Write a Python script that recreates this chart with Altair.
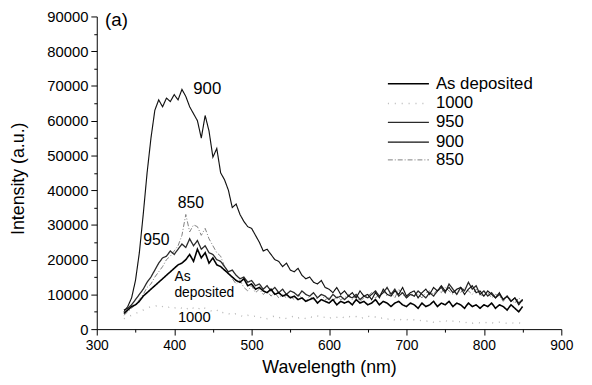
import altair as alt
import pandas as pd

wavelength = list(range(335, 855, 5))

s_900 = [5000, 6500, 9000, 14000, 22000, 33000, 45000, 55000, 63000, 66000,
         64000, 66500, 65500, 67500, 66000, 69000, 67000, 64000, 62000, 60000,
         55000, 61500, 57000, 49500, 52000, 45000, 43000, 40000, 35000, 36000,
         33000, 31000, 29500, 29000, 27000, 25000, 22500, 23000, 21500, 20000,
         19500, 18000, 19000, 17000, 16500, 17500, 15500, 14500, 15000, 13500,
         13000, 14000, 12000, 11500, 10500, 12000, 10000, 11000, 9500, 10500,
         9000, 11000, 9500, 10000, 8500, 10500, 9000, 11500, 10000, 9500,
         11000, 10000, 12000, 9500, 10500, 11000, 9000, 10500, 11500, 10000,
         12000, 11000, 12500, 11000, 12000, 10500, 11500, 12000, 10000, 11500,
         12500, 10500, 11000, 9500, 11000, 10000, 9000, 10500, 8500, 9500,
         8000, 9000, 7000, 8500]

s_850 = [4000, 5000, 6000, 7000, 8500, 10000, 12000, 13000, 15000, 16500,
         18000, 20000, 21000, 22500, 24000, 27000, 33000, 28000, 30000, 29500,
         27000, 29000, 26000, 24000, 22000, 21000, 18000, 16000, 14500, 13000,
         14000, 12000, 11000, 12500, 10500, 11500, 10000, 11000, 9500, 10500,
         9000, 10000, 9000, 9500, 8500, 10000, 9000, 8000, 9500, 8500,
         9000, 10000, 8500, 9000, 8000, 9500, 8500, 9000, 10000, 8500,
         9500, 8000, 9000, 9500, 10500, 9000, 10000, 11000, 9500, 10500,
         9000, 11500, 10000, 9000, 10500, 9500, 10000, 9000, 10500, 11000,
         10000, 11500, 10500, 12000, 11000, 10000, 11500, 10500, 12000, 11000,
         10000, 11500, 10000, 9500, 10500, 9000, 10000, 9500, 8000, 9500,
         8500, 7500, 9000, 8000]

s_950 = [5500, 6000, 7000, 8500, 10000, 11500, 13500, 15000, 17000, 19000,
         20500, 21000, 22500, 21500, 23000, 24500, 23500, 26000, 24000, 25500,
         23000, 24000, 22000, 21500, 20000, 19500, 18000, 16500, 17000, 15500,
         14500, 15000, 13500, 14000, 12500, 13000, 11500, 12500, 11000, 12000,
         10500, 11500, 10000, 11000, 10500, 9500, 11000, 10000, 9500, 10500,
         9000, 10000, 9500, 8500, 10000, 9000, 9500, 8500, 9500, 9000,
         10000, 8500, 9500, 9000, 10000, 11000, 9500, 10500, 12000, 10000,
         11500, 9500, 10500, 9000, 10000, 9500, 11000, 10000, 9000, 10500,
         9500, 11000, 12000, 10500, 13000, 11500, 10000, 12000, 11000, 13500,
         11500, 12500, 10000, 11000, 9500, 10500, 9000, 10000, 8500, 9500,
         8000, 9000, 7500, 8500]

s_asdep = [4500, 5500, 6500, 7000, 8000, 9500, 10500, 11500, 12500, 13500,
           14500, 15500, 16500, 17500, 18500, 19000, 20000, 21500, 19500, 23000,
           20500, 22000, 19000, 20500, 18500, 18000, 17000, 16000, 15000, 14000,
           13500, 14500, 12500, 13000, 11500, 12000, 11000, 10500, 11500, 10000,
           10500, 9500, 10000, 9000, 9500, 8500, 9000, 8000, 8500, 9000,
           7500, 8500, 8000, 7500, 8500, 7000, 8000, 7500, 8000, 7000,
           8500, 7500, 8000, 7000, 7500, 8500, 7000, 8000, 7500, 6500,
           7500, 8000, 7000, 6500, 7500, 7000, 6000, 7500, 6500, 7000,
           8000, 6500, 7500, 7000, 8000, 6500, 7500, 7000, 6000, 7500,
           6500, 7000, 6000, 7000, 6500, 7500, 6000, 7000, 6500, 5500,
           7000, 6000, 5000, 6500]

s_1000 = [3000, 3500, 4000, 4500, 5000, 5500, 6000, 6500, 6500, 7000,
          6500, 6000, 6500, 6000, 6500, 6000, 5500, 6500, 6000, 5500,
          6500, 6000, 5500, 5000, 5500, 4500, 5000, 4500, 4000, 4500,
          4000, 3500, 4000, 3500, 3800, 3200, 3600, 3000, 3500, 3800,
          3200, 3600, 3000, 3400, 3800, 3200, 3500, 3000, 3600, 3300,
          3800, 3200, 3500, 3000, 3600, 3400, 3800, 3200, 3700, 3300,
          3600, 3000, 3400, 3800, 3200, 3500, 3000, 3300, 2800, 3200,
          2600, 3000, 2500, 2800, 2400, 2700, 2300, 2600, 2200, 2500,
          2000, 2400, 2100, 2500, 2000, 2300, 1900, 2200, 1800, 2100,
          1700, 2000, 1800, 2100, 1700, 1900, 1600, 2000, 1800, 1700,
          1900, 1600, 1800, 1700]

series_names = ["As deposited", "1000", "950", "900", "850"]
series_colors = ["#000000", "#b8b8b8", "#2a2a2a", "#111111", "#808080"]
series_dash = [[1, 0], [1, 6], [1, 0], [1, 0], [5, 2, 1, 2]]
series_width = [1.6, 1.0, 1.2, 1.2, 1.0]
draw_order = ["1000", "850", "950", "As deposited", "900"]

legend_y = [70655, 64957, 59544, 53846, 48718]
legend_x1 = 676
legend_x2 = 729
legend_label_x = 738

ann_text = ["(a)", "900", "850", "950", "As", "deposited", "1000"]
ann_x = [325.5, 442.7, 421.7, 377, 410.8, 438.9, 426]
ann_y = [88900, 69200, 36200, 25600, 15100, 10300, 3400]
ann_size = [19, 17, 16, 16, 14, 14, 15]

values_by_series = {
    "As deposited": s_asdep, "1000": s_1000, "950": s_950, "900": s_900, "850": s_850,
}
rows = []
for name in draw_order:
    for w, v in zip(wavelength, values_by_series[name]):
        rows.append({"series": name, "wl": w, "val": v, "order": draw_order.index(name)})
df = pd.DataFrame(rows)

leg_df = pd.DataFrame({"series": series_names, "x1": [legend_x1] * 5,
                       "x2": [legend_x2] * 5, "y": legend_y,
                       "lx": [legend_label_x] * 5})
ann_df = pd.DataFrame({"text": ann_text, "x": ann_x, "y": ann_y, "size": ann_size})

xscale = alt.Scale(domain=[300, 900], nice=False, zero=False)
yscale = alt.Scale(domain=[0, 90000], nice=False)
color_scale = alt.Scale(domain=series_names, range=series_colors)
dash_scale = alt.Scale(domain=series_names, range=series_dash)
width_scale = alt.Scale(domain=series_names, range=series_width)

xaxis = alt.Axis(
    title="Wavelength (nm)", values=list(range(300, 901, 50)), format="d",
    labelExpr="datum.value % 100 === 0 ? datum.label : ''",
    tickSize={"condition": {"test": "datum.value % 100 === 0", "value": 6}, "value": 3},
    grid=False, labelFontSize=14, titleFontSize=18, titleFontWeight="normal",
    domainColor="black", tickColor="black", labelColor="black", titleColor="black",
    labelPadding=4, titleY=39, titleBaseline="middle", labelFlush=False,
    labelOverlap=False,
)
yaxis = alt.Axis(
    title="Intensity (a.u.)", values=list(range(0, 90001, 5000)), format="d",
    labelExpr="datum.value % 10000 === 0 ? datum.label : ''",
    tickSize={"condition": {"test": "datum.value % 10000 === 0", "value": 6}, "value": 3},
    grid=False, labelFontSize=15, titleFontSize=18, titleFontWeight="normal",
    domainColor="black", tickColor="black", labelColor="black", titleColor="black",
    labelPadding=3, titleX=-79, titleY=164, titleBaseline="middle", titleAngle=-90,
    labelFlush=False, labelOverlap=False,
)

lines = alt.Chart(df).mark_line(clip=True).encode(
    x=alt.X("wl:Q", scale=xscale, axis=xaxis),
    y=alt.Y("val:Q", scale=yscale, axis=yaxis),
    color=alt.Color("series:N", scale=color_scale, legend=None),
    strokeDash=alt.StrokeDash("series:N", scale=dash_scale, legend=None),
    strokeWidth=alt.StrokeWidth("series:N", scale=width_scale, legend=None),
    detail="series:N",
    order="order:Q",
)

leg_lines = alt.Chart(leg_df).mark_rule().encode(
    x=alt.X("x1:Q", scale=xscale, axis=xaxis), x2="x2:Q",
    y=alt.Y("y:Q", scale=yscale, axis=yaxis),
    color=alt.Color("series:N", scale=color_scale, legend=None),
    strokeDash=alt.StrokeDash("series:N", scale=dash_scale, legend=None),
    strokeWidth=alt.StrokeWidth("series:N", scale=width_scale, legend=None),
)
leg_text = alt.Chart(leg_df).mark_text(align="left", baseline="middle", fontSize=17,
                                       color="black").encode(
    x=alt.X("lx:Q", scale=xscale, axis=xaxis),
    y=alt.Y("y:Q", scale=yscale, axis=yaxis), text="series:N",
)
ann = alt.Chart(ann_df).mark_text(align="center", baseline="middle", color="black").encode(
    x=alt.X("x:Q", scale=xscale, axis=xaxis),
    y=alt.Y("y:Q", scale=yscale, axis=yaxis), text="text:N",
    size=alt.Size("size:Q", scale=None, legend=None),
)

chart = alt.layer(lines, leg_lines, leg_text, ann).properties(
    width=471, height=317,
    autosize=alt.AutoSizeParams(type="none"),
    padding={"left": 90, "top": 6, "right": 23, "bottom": 50},
).configure(font="Liberation Sans").configure_view(stroke=None).configure_text(
    font="Liberation Sans")

chart.save("out.html", embed_options={"renderer": "svg", "actions": False})
